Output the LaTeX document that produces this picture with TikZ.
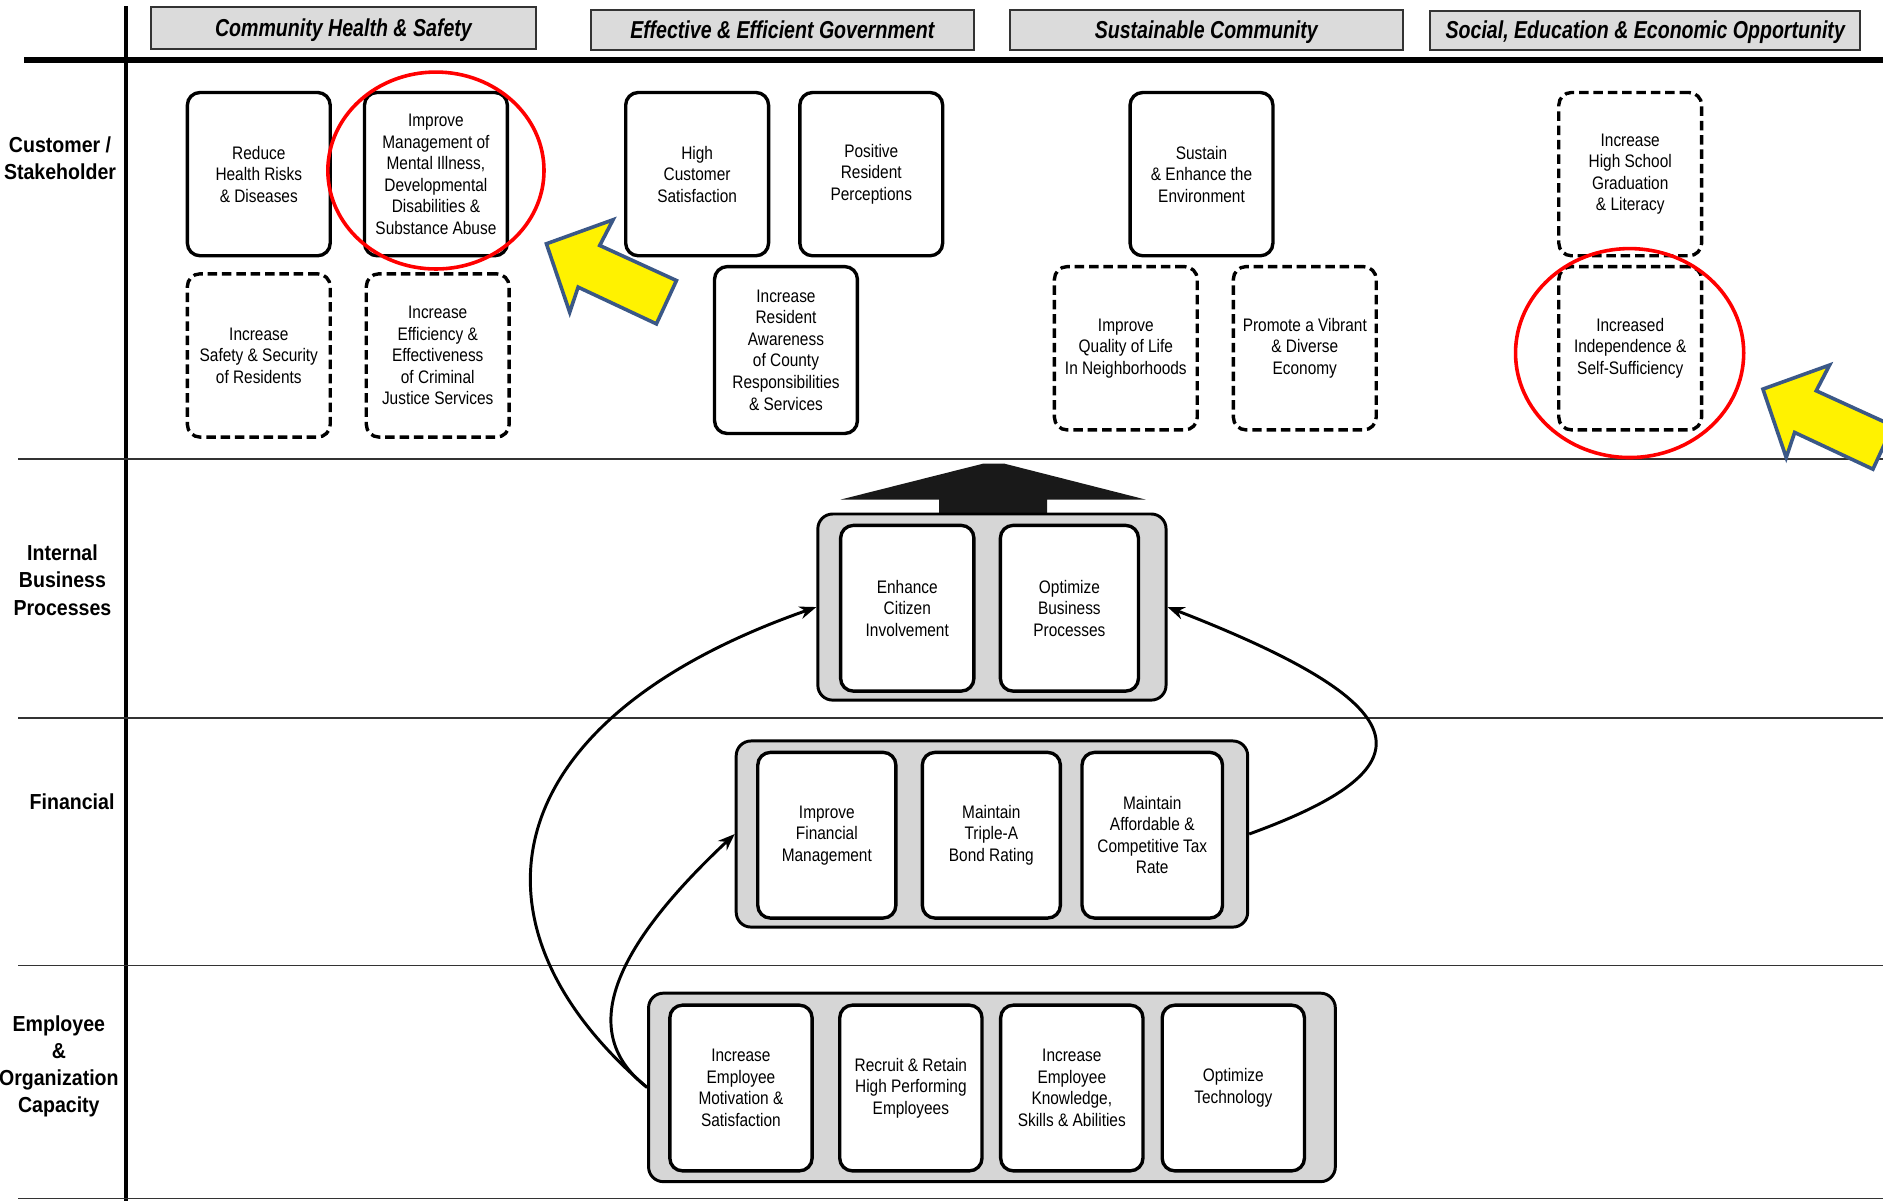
\documentclass[tikz,border=0pt]{standalone}
\usepackage{fontspec}
\setmainfont{Liberation Sans}[FakeStretch=0.85]
\newfontfamily\rowfont{Liberation Sans}[FakeStretch=0.9]
\newfontfamily\headfont{Liberation Sans}[FakeStretch=0.8]
\usetikzlibrary{arrows.meta}

\def\pointer{(0,0) -- (55.5,-20) -- (44.4,1.4) -- (108.3,30.6) -- (91.6,66.7) -- (26.4,36.1) -- (19.4,57) -- cycle}
\def\roof{(700,416) -- (819,386) -- (836,386) -- (954,416) -- (872,416) -- (872,429) -- (782,429) -- (782,416) -- cycle}
\colorlet{box edge}{black}
\colorlet{tray area}{black!16}
\colorlet{head area}{black!14}
\definecolor{pointer edge}{RGB}{59,88,135}
\tikzset{
  goal/.style={draw=box edge, fill=white, line width=1.6pt, rounded corners=6pt,
    minimum width=2.38cm, minimum height=2.72cm, inner sep=1pt, align=center,
    font=\fontsize{8.6}{10.2}\selectfont},
  maybe/.style={goal, dash pattern=on 4.5pt off 2.3pt},
  part/.style={goal, minimum width=2.3cm, minimum height=2.76cm},
  tray/.style={draw=box edge, fill=tray area, line width=1.4pt, rounded corners=7pt},
  header/.style={draw=black!80, fill=head area, line width=0.9pt,
    text height=1.6ex, text depth=0.1ex,
    font=\headfont\bfseries\itshape\fontsize{11.6}{13}\selectfont},
  rowname/.style={align=center, font=\rowfont\bfseries\fontsize{10.3}{12.9}\selectfont},
  link/.style={line width=1.4pt, -{Stealth[length=8pt,width=6pt]}},
  ring/.style={draw=red, line width=1.7pt},
  hint/.style={fill=yellow, draw=pointer edge, line width=1.7pt, line join=miter}
}

\begin{document}
\begin{tikzpicture}[x=0.02cm,y=-0.02cm]
  \useasboundingbox (0,0) rectangle (1568,1000);
  \clip (0,0) rectangle (1568,1000);

  % grid of the scorecard
  \draw[line width=2.2pt] (105,5) -- (105,1000);
  \draw[line width=3.2pt] (20,50) -- (1568,50);
  \foreach \y in {382,598,804,998}
    \draw[line width=0.9pt, black!80] (15,\y) -- (1568,\y);

  \node[header, minimum width=6.4cm, minimum height=0.7cm] (health) at (286,23.5) {Community Health \& Safety};
  \node[header, minimum width=6.38cm, minimum height=0.68cm] (govern) at (651.5,25) {Effective \& Efficient Government};
  \node[header, minimum width=6.54cm, minimum height=0.68cm] (sustain) at (1004.5,25) {Sustainable Community};
  \node[header, minimum width=7.16cm, minimum height=0.66cm] (social) at (1370,25.5) {Social, Education \& Economic Opportunity};

  \node[rowname] (cust) at (50,132) {Customer /\\Stakeholder};
  \node[rowname] (intern) at (52,483) {Internal\\Business\\Processes};
  \node[rowname] (fin) at (60,668) {Financial};
  \node[rowname] (emp) at (49,888) {Employee\\\&\\Organization\\Capacity};

  % customer / stakeholder goals
  \node[goal] (risks) at (215.5,145) {Reduce\\Health Risks\\\& Diseases};
  \node[goal] (mental) at (363,145) {Improve\\Management of\\Mental Illness,\\Developmental\\Disabilities \&\\Substance Abuse};
  \node[maybe] (safety) at (215.5,296) {Increase\\Safety \& Security\\of Residents};
  \node[maybe] (justice) at (364.5,296) {Increase\\Efficiency \&\\Effectiveness\\of Criminal\\Justice Services};
  \node[goal] (service) at (580.5,145) {High\\Customer\\Satisfaction};
  \node[goal] (image) at (725.5,145) {Positive\\Resident\\Perceptions};
  \node[goal, minimum height=2.78cm] (aware) at (654.5,291.5) {Increase\\Resident\\Awareness\\of County\\Responsibilities\\\& Services};
  \node[goal] (environ) at (1000.5,145) {Sustain\\\& Enhance the\\Environment};
  \node[maybe] (quality) at (937.5,290) {Improve\\Quality of Life\\In Neighborhoods};
  \node[maybe] (economy) at (1086.5,290) {Promote a Vibrant\\\& Diverse\\Economy};
  \node[maybe] (literacy) at (1357.5,145) {Increase\\High School\\Graduation\\\& Literacy};
  \node[maybe] (selfsuff) at (1357.5,290) {Increased\\Independence \&\\Self-Sufficiency};

  \draw[ring] (363,142) ellipse [x radius=90, y radius=82];
  \draw[ring] (1357,294) ellipse [x radius=95, y radius=87];
  \draw[hint, shift={(455,203)}] \pointer;
  \draw[hint, shift={(1468,324)}] \pointer;

  % internal, financial and capacity trays
  \fill[black!90] \roof;
  \node[tray, minimum width=5.8cm, minimum height=3.1cm] (internal) at (826,505.5) {};
  \node[part, minimum width=2.22cm] (citizen) at (755.5,506.5) {Enhance\\Citizen\\Involvement};
  \node[part] (process) at (890.5,506.5) {Optimize\\Business\\Processes};

  \node[tray, minimum width=8.52cm, minimum height=3.1cm] (financial) at (826,694.5) {};
  \node[part] (manage) at (688.5,695.5) {Improve\\Financial\\Management};
  \node[part] (bond) at (825.5,695.5) {Maintain\\Triple-A\\Bond Rating};
  \node[part, minimum width=2.34cm] (tax) at (959.5,695.5) {Maintain\\Affordable \&\\Competitive Tax\\Rate};

  \node[tray, minimum width=11.44cm, minimum height=3.14cm] (capacity) at (826,905.5) {};
  \node[part, minimum width=2.37cm] (motive) at (617,906) {Increase\\Employee\\Motivation \&\\Satisfaction};
  \node[part, minimum width=2.37cm] (recruit) at (758.5,906) {Recruit \& Retain\\High Performing\\Employees};
  \node[part, minimum width=2.37cm] (skills) at (892.5,906) {Increase\\Employee\\Knowledge,\\Skills \& Abilities};
  \node[part, minimum width=2.37cm] (tech) at (1027,906) {Optimize\\Technology};

  \draw[link] (capacity.west) .. controls (380,770) and (410,600) .. (internal.west);
  \draw[link] (capacity.west) .. controls (480,860) and (510,790) .. (financial.west);
  \draw[link] (financial.east) .. controls (1190,640) and (1190,590) .. (internal.east);

\end{tikzpicture}
\end{document}
